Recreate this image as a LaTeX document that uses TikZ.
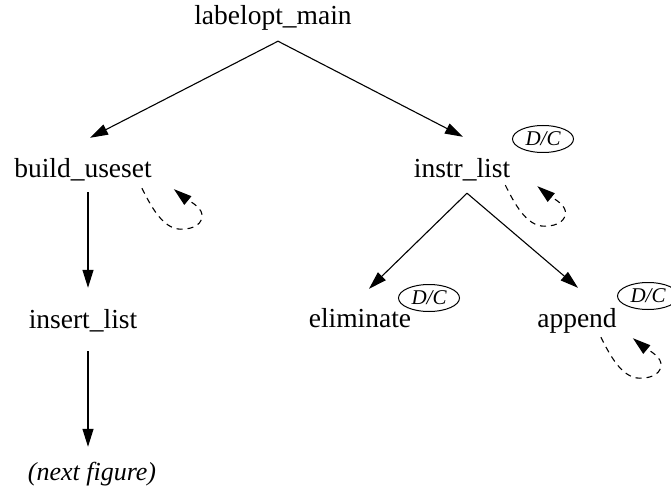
\documentclass[tikz,border=0pt]{standalone}
\usepackage{fontspec}
\setmainfont{Liberation Serif}
\usetikzlibrary{arrows.meta,shapes.geometric}
\begin{document}
\begin{tikzpicture}[x=1pt,y=-1pt,
  fn/.style={anchor=base,inner sep=0pt,text height=19pt,text depth=6pt,
             font=\fontsize{27.5}{30}\selectfont},
  edge/.style={line width=1.1pt,-{Triangle[length=18pt,width=11pt]}},
  selfloop/.style={edge,dash pattern=on 6pt off 5pt},
  dc/.style={ellipse,draw,line width=1pt,minimum width=61pt,minimum height=27pt,
             inner sep=0pt,font=\fontsize{21}{22}\selectfont\itshape}]
\clip (0,0) rectangle (671,489);

% call-graph nodes
\node[fn] (lm) at (273,25)  {labelopt\_main};
\node[fn] (bu) at (83,177)  {build\_useset};
\node[fn] (is) at (462,177) {instr\_list};
\node[fn] (in) at (83,328)  {insert\_list};
\node[fn] (el) at (360,327) {eliminate};
\node[fn] (ap) at (577,327) {append};
\node[fn,font=\fontsize{26}{30}\selectfont\itshape] (nf) at (92,480) {(next figure)};

% D/C annotations
\node[dc] (dcis) at (543,139) {D/C};
\node[dc] (dcel) at (429,298) {D/C};
\node[dc] (dcap) at (648,296) {D/C};

% calls
\draw[edge] ([shift={(5,10)}]lm.south) -- ([shift={(7,-20)}]bu.north);
\draw[edge] ([shift={(5,10)}]lm.south) -- ([shift={(1,-21)}]is.north);
\draw[edge] ([shift={(5,9)}]bu.south)  -- ([shift={(5,-21)}]in.north);
\draw[edge] ([shift={(5,17)}]in.south) -- ([shift={(-4,-14)}]nf.north);
\draw[edge] ([shift={(5,10)}]is.south) -- ([shift={(9,-19)}]el.north);
\draw[edge] ([shift={(5,10)}]is.south) -- ([shift={(1,-20)}]ap.north);

% recursive calls
\foreach \n/\dx/\dy in {is/0/0, bu/-5/3, ap/-11/2} {
  \begin{scope}[shift={([shift={(\dx,\dy)}]\n.south east)}]
    \draw[selfloop] (-5,2) .. controls (4,20) and (16,43) .. (34,43)
      .. controls (48,43) and (56,37) .. (55,28)
      .. controls (54,20) and (38,12) .. (27,3);
  \end{scope}
}
\end{tikzpicture}
\end{document}
